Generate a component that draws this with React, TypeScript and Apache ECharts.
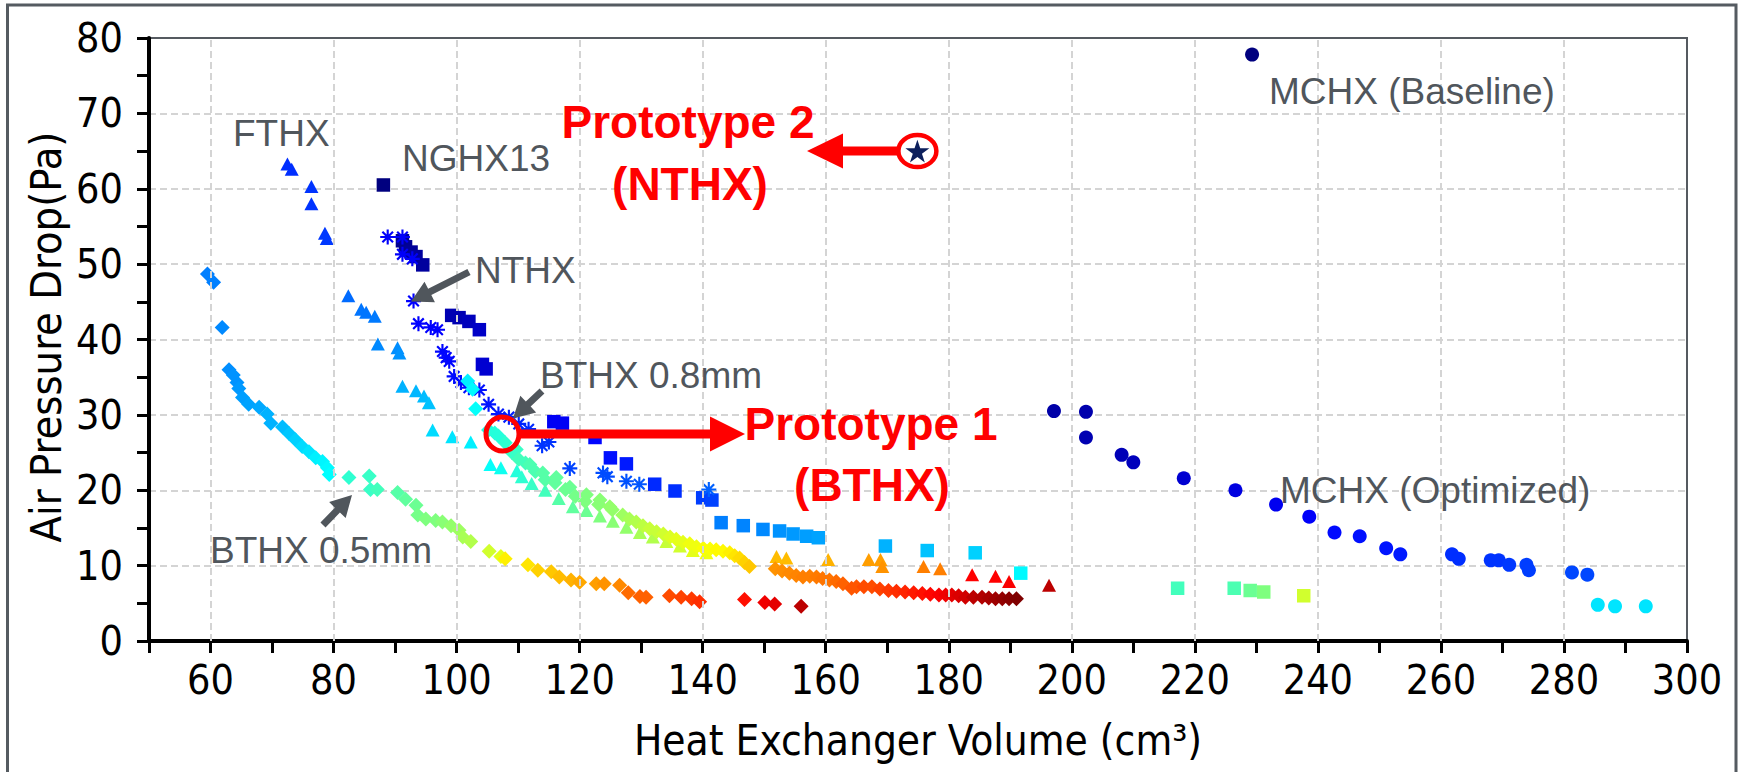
import { useEffect, useRef } from "react";
import * as echarts from "echarts";

// Each point: [heat exchanger volume (cm³), air pressure drop (Pa), colour index 0..1]
type Pt = [number, number, number];

const mchxBaseline: Pt[] = [[229.3, 77.8, 0.0]];

const mchxOptimized: Pt[] = [
  [197.1, 30.5, 0.04], [202.3, 30.4, 0.045], [202.3, 27.0, 0.05], [208.1, 24.7, 0.055],
  [210.0, 23.7, 0.06], [218.2, 21.6, 0.08], [226.6, 20.0, 0.095], [233.2, 18.1, 0.11],
  [238.6, 16.5, 0.12], [242.7, 14.4, 0.135], [246.8, 13.9, 0.14], [251.1, 12.3, 0.145],
  [253.4, 11.5, 0.15], [261.8, 11.5, 0.17], [262.9, 10.9, 0.17], [268.1, 10.7, 0.175],
  [269.4, 10.7, 0.175], [271.1, 10.1, 0.18], [273.9, 10.1, 0.185], [274.3, 9.4, 0.185],
  [281.3, 9.1, 0.195], [283.8, 8.8, 0.195], [285.5, 4.8, 0.35], [288.3, 4.6, 0.35],
  [293.3, 4.6, 0.35],
];

const nghx13: Pt[] = [
  [88.1, 60.5, 0.0], [91.2, 53.1, 0.02], [91.7, 52.3, 0.02], [92.6, 51.6, 0.025],
  [93.4, 51.0, 0.03], [94.5, 49.9, 0.03], [99.2, 43.2, 0.05], [100.4, 42.9, 0.05],
  [102.0, 42.4, 0.06], [103.7, 41.3, 0.07], [104.2, 36.7, 0.08], [104.8, 36.1, 0.08],
  [115.8, 29.1, 0.115], [117.2, 28.9, 0.115], [122.5, 27.0, 0.13], [125.0, 24.3, 0.14],
  [127.6, 23.5, 0.15], [132.2, 20.8, 0.165], [135.5, 19.9, 0.17], [140.0, 19.0, 0.185],
  [141.5, 18.7, 0.19], [143.0, 15.7, 0.25], [146.6, 15.3, 0.255], [149.8, 14.8, 0.26],
  [152.5, 14.6, 0.27], [154.7, 14.2, 0.275], [156.9, 13.9, 0.28], [158.8, 13.7, 0.285],
  [169.7, 12.6, 0.3], [176.5, 12.0, 0.315], [184.3, 11.7, 0.33], [191.7, 9.0, 0.37],
  [217.2, 7.0, 0.44], [226.4, 7.0, 0.45], [229.0, 6.7, 0.48], [231.2, 6.5, 0.5],
  [237.7, 6.0, 0.58],
];

const nthx: Pt[] = [
  [88.8, 53.6, 0.12], [91.2, 53.6, 0.12], [91.2, 51.3, 0.12], [92.8, 50.7, 0.12],
  [93.0, 45.1, 0.125], [93.8, 42.1, 0.125], [95.8, 41.6, 0.125], [96.9, 41.3, 0.125],
  [97.7, 38.4, 0.13], [98.3, 37.6, 0.13], [98.8, 37.1, 0.13], [99.6, 35.1, 0.135],
  [100.7, 34.3, 0.135], [102.0, 33.6, 0.14], [103.7, 33.3, 0.14], [105.2, 31.4, 0.145],
  [106.8, 30.1, 0.15], [108.5, 29.7, 0.155], [110.1, 28.8, 0.16], [111.7, 28.1, 0.165],
  [113.9, 25.9, 0.175], [115.0, 26.4, 0.175], [118.4, 22.9, 0.19], [123.8, 22.3, 0.2],
  [124.5, 21.8, 0.2], [127.6, 21.2, 0.205], [129.7, 20.8, 0.21], [141.0, 20.1, 0.22],
];

const fthx: Pt[] = [
  [72.5, 63.3, 0.17], [73.2, 62.6, 0.17], [76.4, 60.3, 0.175], [76.4, 58.0, 0.175],
  [78.6, 54.1, 0.18], [78.9, 53.4, 0.18], [82.4, 45.8, 0.23], [84.5, 44.0, 0.24],
  [85.3, 43.6, 0.24], [86.7, 43.1, 0.245], [87.2, 39.4, 0.26], [90.4, 38.9, 0.265],
  [90.7, 38.2, 0.27], [91.2, 33.8, 0.3], [93.4, 33.2, 0.305], [94.7, 32.5, 0.31],
  [95.5, 31.6, 0.315], [96.1, 28.0, 0.34], [99.3, 27.1, 0.35], [102.3, 26.4, 0.36],
  [105.5, 23.4, 0.38], [107.2, 23.0, 0.39], [109.8, 22.6, 0.41], [110.6, 21.8, 0.42],
  [112.2, 20.9, 0.43], [114.4, 20.0, 0.44], [116.6, 18.9, 0.46], [118.9, 17.8, 0.47],
  [121.1, 17.3, 0.48], [123.3, 16.6, 0.5], [125.4, 15.9, 0.51], [127.6, 15.1, 0.52],
  [129.8, 14.4, 0.54], [131.9, 13.8, 0.55], [134.1, 13.2, 0.57], [136.3, 12.6, 0.58],
  [138.4, 12.0, 0.6], [140.6, 11.7, 0.61], [152.0, 11.2, 0.69], [153.6, 11.0, 0.69],
  [160.4, 10.8, 0.7], [167.0, 10.8, 0.72], [168.9, 10.8, 0.72], [169.2, 9.9, 0.73],
  [175.9, 9.9, 0.75], [178.6, 9.6, 0.75], [183.8, 8.8, 0.875], [187.6, 8.6, 0.875],
  [189.8, 7.9, 0.88], [196.3, 7.4, 0.94],
];

const bthx08: Pt[] = [
  [101.8, 34.5, 0.36], [102.6, 33.4, 0.37], [103.1, 30.8, 0.38], [105.2, 28.0, 0.4],
  [106.2, 27.6, 0.41], [106.8, 27.2, 0.41], [107.9, 26.3, 0.42], [109.0, 25.0, 0.43],
  [109.7, 25.4, 0.43], [110.1, 24.1, 0.44], [111.2, 23.6, 0.44], [111.9, 23.4, 0.45],
  [112.8, 22.5, 0.45], [114.0, 22.3, 0.46], [114.4, 21.4, 0.46], [116.0, 21.0, 0.47],
  [116.2, 21.7, 0.47], [117.7, 20.1, 0.48], [118.4, 20.4, 0.48], [119.3, 19.2, 0.49],
  [120.9, 18.5, 0.5], [121.1, 19.4, 0.5], [123.1, 18.1, 0.51], [123.3, 18.7, 0.51],
  [124.9, 17.8, 0.52], [125.3, 17.4, 0.52], [127.0, 16.7, 0.53], [128.1, 16.2, 0.54],
  [129.2, 15.8, 0.55], [130.3, 15.3, 0.56], [131.4, 14.9, 0.57], [132.5, 14.5, 0.57],
  [133.6, 14.2, 0.58], [134.7, 13.8, 0.59], [135.7, 13.5, 0.6], [136.8, 13.1, 0.6],
  [137.9, 12.9, 0.61], [139.0, 12.5, 0.61], [140.1, 12.3, 0.62], [141.2, 12.2, 0.62],
  [142.2, 12.1, 0.63], [143.3, 11.9, 0.63], [144.4, 11.7, 0.64], [145.2, 11.3, 0.65],
  [146.0, 11.0, 0.66], [146.8, 10.4, 0.67], [147.6, 9.9, 0.68], [151.8, 9.6, 0.73],
  [152.9, 9.3, 0.735], [154.1, 9.0, 0.74], [155.2, 8.7, 0.745], [156.3, 8.5, 0.75],
  [157.4, 8.6, 0.75], [158.5, 8.5, 0.755], [159.5, 8.3, 0.76], [160.6, 8.1, 0.76],
  [161.7, 7.9, 0.77], [162.8, 7.6, 0.78], [164.2, 7.0, 0.79], [165.0, 7.2, 0.79],
  [166.2, 7.2, 0.8], [167.5, 7.2, 0.8], [168.8, 6.9, 0.81], [170.2, 6.7, 0.82],
  [171.5, 6.6, 0.83], [172.9, 6.5, 0.84], [174.3, 6.4, 0.85], [175.7, 6.3, 0.86],
  [177.0, 6.2, 0.87], [178.4, 6.1, 0.88], [179.5, 6.1, 0.89], [180.5, 6.1, 0.9],
  [181.6, 6.0, 0.91], [182.7, 5.8, 0.92], [184.0, 5.8, 0.94], [185.4, 5.8, 0.95],
  [186.5, 5.7, 0.96], [187.6, 5.6, 0.97], [188.7, 5.6, 0.98], [189.8, 5.6, 0.99],
  [191.0, 5.6, 1.0],
];

const bthx05: Pt[] = [
  [59.5, 48.7, 0.25], [60.5, 47.6, 0.25], [61.9, 41.6, 0.26], [63.0, 36.0, 0.265],
  [63.7, 35.3, 0.27], [64.3, 34.3, 0.27], [64.6, 33.5, 0.275], [65.2, 32.3, 0.28],
  [66.2, 31.4, 0.285], [67.9, 31.0, 0.29], [69.2, 30.1, 0.3], [69.8, 28.9, 0.3],
  [71.7, 28.4, 0.31], [72.8, 27.5, 0.32], [73.8, 26.7, 0.33], [74.9, 25.8, 0.34],
  [76.0, 25.1, 0.35], [77.1, 24.3, 0.36], [78.2, 23.8, 0.365], [79.0, 23.0, 0.37],
  [79.3, 22.1, 0.375], [82.5, 21.7, 0.42], [85.8, 21.9, 0.43], [86.0, 20.1, 0.43],
  [87.1, 20.1, 0.44], [90.4, 19.7, 0.46], [91.7, 18.8, 0.47], [93.4, 18.0, 0.48],
  [93.7, 16.7, 0.49], [95.0, 16.2, 0.5], [96.6, 16.0, 0.5], [97.7, 15.8, 0.51],
  [99.1, 15.3, 0.52], [100.4, 14.7, 0.53], [101.0, 13.8, 0.54], [102.3, 13.2, 0.55],
  [105.3, 11.9, 0.58], [107.2, 11.2, 0.6], [107.9, 10.9, 0.64], [111.6, 10.1, 0.65],
  [113.2, 9.4, 0.67], [115.4, 9.2, 0.68], [116.7, 8.5, 0.69], [118.6, 8.1, 0.7],
  [120.0, 7.8, 0.71], [122.7, 7.6, 0.72], [124.0, 7.6, 0.73], [126.5, 7.4, 0.74],
  [127.9, 6.4, 0.77], [129.8, 5.9, 0.78], [130.8, 5.8, 0.78], [134.6, 6.0, 0.8],
  [136.5, 5.8, 0.81], [138.2, 5.6, 0.82], [139.5, 5.2, 0.83], [146.8, 5.5, 0.86],
  [150.1, 5.1, 0.89], [151.7, 4.9, 0.9], [156.0, 4.6, 0.94],
];

const prototype2: [number, number][] = [[174.9, 65.0]];

const xTickLabels = [60, 80, 100, 120, 140, 160, 180, 200, 220, 240, 260, 280, 300];
const xGridValues = [60, 80, 100, 120, 140, 160, 180, 200, 220, 240, 260, 280];
const jetColors = [
  "#00007f", "#0000ff", "#007fff", "#00ffff", "#7fff7f",
  "#ffff00", "#ff7f00", "#ff0000", "#7f0000",
];

const ASTERISK =
  "path://M-7,-1L7,-1L7,1L-7,1Z M-1,-7L1,-7L1,7L-1,7Z " +
  "M-4.24,-5.66L5.66,4.24L4.24,5.66L-5.66,-4.24Z M-5.66,4.24L4.24,-5.66L5.66,-4.24L-4.24,5.66Z";
const STAR =
  "path://M0,-10L2.245,-3.09L9.51,-3.09L3.633,1.18L5.88,8.09L0,3.82L-5.88,8.09L-3.633,1.18L-9.51,-3.09L-2.245,-3.09Z";

const AXIS_FONT = "'DejaVu Sans Condensed', 'Liberation Sans', sans-serif";
const NOTE_FONT = "'Liberation Sans', Arial, sans-serif";
const NOTE_GRAY = "#50565c";
const GRID_GRAY = "#d4d4d4";

type XY = [number, number];

function arrowPoints(tail: XY, tip: XY, shaftHalf: number, headLen: number, headHalf: number): XY[] {
  const dx = tip[0] - tail[0];
  const dy = tip[1] - tail[1];
  const len = Math.hypot(dx, dy);
  const ux = dx / len;
  const uy = dy / len;
  const nx = -uy;
  const ny = ux;
  const bx = tip[0] - ux * headLen;
  const by = tip[1] - uy * headLen;
  return [
    [tail[0] + nx * shaftHalf, tail[1] + ny * shaftHalf],
    [bx + nx * shaftHalf, by + ny * shaftHalf],
    [bx + nx * headHalf, by + ny * headHalf],
    [tip[0], tip[1]],
    [bx - nx * headHalf, by - ny * headHalf],
    [bx - nx * shaftHalf, by - ny * shaftHalf],
    [tail[0] - nx * shaftHalf, tail[1] - ny * shaftHalf],
  ];
}

function noteText(text: string, x: number, y: number) {
  return {
    type: "text",
    x,
    y,
    z: 100,
    silent: true,
    style: {
      text,
      fill: NOTE_GRAY,
      font: `37px ${NOTE_FONT}`,
      align: "left",
      verticalAlign: "middle",
      textAlign: "left",
      textVerticalAlign: "middle",
    },
  };
}

function redText(text: string, x: number, y: number) {
  return {
    type: "text",
    x,
    y,
    z: 100,
    silent: true,
    style: {
      text,
      fill: "#ff0000",
      font: `bold 46px ${NOTE_FONT}`,
      align: "center",
      verticalAlign: "middle",
      textAlign: "center",
      textVerticalAlign: "middle",
    },
  };
}

export default function App() {
  const ref = useRef<HTMLDivElement>(null);

  useEffect(() => {
    if (!ref.current) return;
    const chart = echarts.init(ref.current, undefined, { renderer: "svg" });

    const gridDash = { color: GRID_GRAY, type: [7, 4] as number[], width: 2 };
    const axisLabelBase = { color: "#000", fontSize: 41, fontFamily: AXIS_FONT };

    const scatterBase = (name: string, data: Pt[], symbol: string, symbolSize: number | number[]) => ({
      name,
      type: "scatter",
      data,
      symbol,
      symbolSize,
      symbolKeepAspect: false,
      itemStyle: { opacity: 1 },
      silent: true,
      z: 3,
    });

    chart.setOption({
      animation: false,
      backgroundColor: "#ffffff",
      grid: {
        left: 149,
        right: 54,
        top: 38,
        bottom: 131,
        show: true,
        borderColor: "#555a60",
        borderWidth: 2,
        backgroundColor: "transparent",
      },
      xAxis: {
        type: "value",
        min: 50,
        max: 300,
        interval: 10,
        axisLine: { show: true, onZero: false, lineStyle: { color: "#000", width: 4 } },
        axisTick: { show: true, length: 12, lineStyle: { color: "#000", width: 3 } },
        axisLabel: {
          ...axisLabelBase,
          margin: 39,
          verticalAlign: "middle",
          formatter: (v: number) => (xTickLabels.includes(v) ? String(v) : ""),
        },
        splitLine: { show: false },
      },
      yAxis: {
        type: "value",
        min: 0,
        max: 80,
        interval: 10,
        axisLine: { show: true, onZero: false, lineStyle: { color: "#000", width: 4 } },
        axisTick: { show: true, length: 12, lineStyle: { color: "#000", width: 3 } },
        minorTick: { show: true, splitNumber: 2, length: 12, lineStyle: { color: "#000", width: 3 } },
        axisLabel: { ...axisLabelBase, margin: 26 },
        splitLine: { show: true, lineStyle: gridDash, showMinLine: false, showMaxLine: false },
      },
      visualMap: {
        type: "continuous",
        show: false,
        min: 0,
        max: 1,
        dimension: 2,
        seriesIndex: [1, 2, 3, 4, 5, 6, 7],
        inRange: { color: jetColors },
      },
      series: [
        {
          name: "grid",
          type: "line",
          data: [],
          silent: true,
          z: 1,
          markLine: {
            silent: true,
            symbol: ["none", "none"],
            label: { show: false },
            emphasis: { disabled: true },
            lineStyle: gridDash,
            data: xGridValues.map((v) => ({ xAxis: v })),
          },
        },
        scatterBase("MCHX (Baseline)", mchxBaseline, "circle", 14),
        scatterBase("MCHX (Optimized)", mchxOptimized, "circle", 14),
        scatterBase("NGHX13", nghx13, "rect", 13.5),
        scatterBase("NTHX", nthx, ASTERISK, 15),
        scatterBase("FTHX", fthx, "triangle", [14, 13]),
        scatterBase("BTHX 0.8mm", bthx08, "diamond", 15),
        scatterBase("BTHX 0.5mm", bthx05, "diamond", 15),
        {
          name: "Prototype 2",
          type: "scatter",
          data: prototype2,
          symbol: STAR,
          symbolSize: 24,
          symbolKeepAspect: true,
          itemStyle: { color: "#0c1f5c", opacity: 1 },
          silent: true,
          z: 5,
        },
      ],
    });

    const star = chart.convertToPixel({ gridIndex: 0 }, prototype2[0]) as number[];

    chart.setOption({
      graphic: [
        {
          type: "rect",
          silent: true,
          z: 100,
          shape: { x: 7.5, y: 5, width: 1728.5, height: 800 },
          style: { fill: "none", stroke: "#555b61", lineWidth: 3 },
        },
        {
          type: "text",
          x: 46,
          y: 337,
          z: 100,
          rotation: Math.PI / 2,
          silent: true,
          style: {
            text: "Air Pressure Drop(Pa)",
            fill: "#000",
            font: `43px ${AXIS_FONT}`,
            align: "center",
            verticalAlign: "middle",
            textAlign: "center",
            textVerticalAlign: "middle",
          },
        },
        {
          type: "text",
          x: 918,
          y: 740,
          z: 100,
          silent: true,
          style: {
            text: "Heat Exchanger Volume (cm³)",
            fill: "#000",
            font: `42px ${AXIS_FONT}`,
            align: "center",
            verticalAlign: "middle",
            textAlign: "center",
            textVerticalAlign: "middle",
          },
        },
        noteText("FTHX", 233, 133),
        noteText("NGHX13", 402, 158),
        noteText("NTHX", 475, 270),
        noteText("BTHX 0.8mm", 540, 375),
        noteText("BTHX 0.5mm", 210, 550),
        noteText("MCHX (Baseline)", 1269, 91),
        noteText("MCHX (Optimized)", 1280, 490),
        {
          type: "polygon",
          silent: true,
          z: 100,
          shape: { points: arrowPoints([469, 272], [411, 301.5], 3.5, 21, 11.5) },
          style: { fill: NOTE_GRAY },
        },
        {
          type: "polygon",
          silent: true,
          z: 100,
          shape: { points: arrowPoints([542, 391], [513, 418.5], 3.5, 21, 11.5) },
          style: { fill: NOTE_GRAY },
        },
        {
          type: "polygon",
          silent: true,
          z: 100,
          shape: { points: arrowPoints([323, 525], [352, 495], 3.5, 21, 11.5) },
          style: { fill: NOTE_GRAY },
        },
        {
          type: "ellipse",
          silent: true,
          z: 100,
          shape: { cx: 502.5, cy: 434, rx: 16.5, ry: 17 },
          style: { fill: "none", stroke: "#ff0000", lineWidth: 5 },
        },
        {
          type: "polygon",
          silent: true,
          z: 100,
          shape: { points: arrowPoints([520, 434], [745, 434], 4.5, 35, 17.5) },
          style: { fill: "#ff0000" },
        },
        redText("Prototype 1", 871, 424),
        redText("(BTHX)", 872, 485),
        {
          type: "ellipse",
          silent: true,
          z: 100,
          shape: { cx: star[0], cy: star[1], rx: 19, ry: 16 },
          style: { fill: "none", stroke: "#ff0000", lineWidth: 4.5 },
        },
        {
          type: "polygon",
          silent: true,
          z: 100,
          shape: { points: arrowPoints([star[0] - 19, star[1]], [807, star[1]], 4.5, 36, 17.5) },
          style: { fill: "#ff0000" },
        },
        redText("Prototype 2", 688, 122),
        redText("(NTHX)", 690, 184),
      ],
    });

    return () => chart.dispose();
  }, []);

  return (
    <div
      ref={ref}
      style={{ position: "absolute", left: 0, top: 0, width: 1741, height: 772, background: "#fff" }}
    />
  );
}
